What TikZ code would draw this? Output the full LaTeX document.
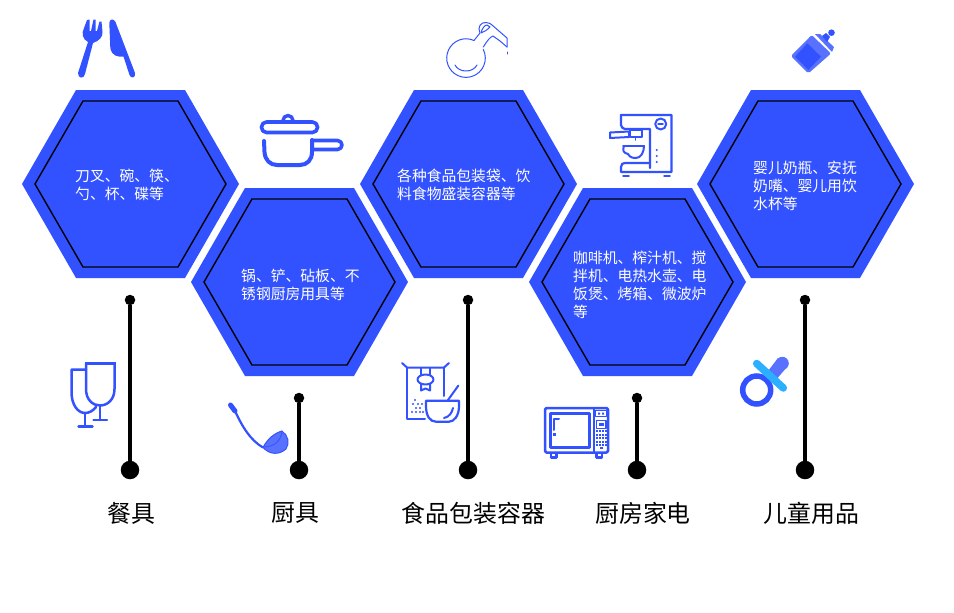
\documentclass[tikz,border=0pt]{standalone}
\usepackage{fontspec}
\setmainfont{Noto Sans CJK SC}
\definecolor{hexblue}{HTML}{3352FF}
\definecolor{lightblue}{HTML}{5872FF}
\definecolor{skyblue}{HTML}{2BB0FF}
\tikzset{
  hexouter/.style={fill=hexblue,draw=none},
  hexinner/.style={draw=black,line width=1.4pt,line join=miter},
  hextext/.style={anchor=west,inner sep=0pt,align=left,text=white,font=\fontsize{14.8}{18}\selectfont},
  cattext/.style={inner sep=0pt,text=black,font=\fontsize{23.9}{28}\selectfont},
  smalldot/.style={circle,fill=black,inner sep=0pt,minimum size=10.5pt},
  bigdot/.style={circle,fill=black,inner sep=0pt,minimum size=18.5pt},
  stem/.style={draw=black,line width=3.4pt},
  ico/.style={draw=hexblue,line width=2.5pt,line cap=round,line join=round},
  icot/.style={draw=hexblue,line width=1.5pt,line cap=round,line join=round},
  icoo/.style={draw=hexblue,line width=4pt,line cap=round,line join=round},
  thinline/.style={draw=hexblue,line width=1pt,line cap=round,line join=round},
}
\newcommand{\hexa}[2]{%
  \fill[hexouter] (#1-108.5,#2) -- (#1-54.5,#2-94) -- (#1+54.5,#2-94) -- (#1+108.5,#2) -- (#1+54.5,#2+94) -- (#1-54.5,#2+94) -- cycle;
  \draw[hexinner] (#1-95.5,#2) -- (#1-47.5,#2-83) -- (#1+47.5,#2-83) -- (#1+95.5,#2) -- (#1+47.5,#2+83) -- (#1-47.5,#2+83) -- cycle;
}
\begin{document}
\begin{tikzpicture}[x=1pt,y=-1pt]
\useasboundingbox (0,0) rectangle (954,613);
\fill[white] (0,0) rectangle (954,613);
% hexagons
\hexa{130.5}{184}
\hexa{299.5}{282}
\hexa{468.5}{184}
\hexa{637.5}{282}
\hexa{805.5}{184}
% hexagon texts
\node[hextext] (t1) at (75,185) {刀叉、碗、筷、\\勺、杯、碟等};
\node[hextext] (t2) at (241,285) {锅、铲、砧板、不\\锈钢厨房用具等};
\node[hextext] (t3) at (397,185) {各种食品包装袋、饮\\料食物盛装容器等};
\node[hextext] (t4) at (573,285) {咖啡机、榨汁机、搅\\拌机、电热水壶、电\\饭煲、烤箱、微波炉\\等};
\node[hextext] (t5) at (753,186) {婴儿奶瓶、安抚\\奶嘴、婴儿用饮\\水杯等};
% connectors
\node[smalldot] (a1) at (130,300) {};
\node[bigdot] (b1) at (130,470) {};
\node[smalldot] (a2) at (299,398) {};
\node[bigdot] (b2) at (299,470) {};
\node[smalldot] (a3) at (468,300) {};
\node[bigdot] (b3) at (468,470) {};
\node[smalldot] (a4) at (637,398) {};
\node[bigdot] (b4) at (637,470) {};
\node[smalldot] (a5) at (805,300) {};
\node[bigdot] (b5) at (805,470) {};
\foreach \i in {1,...,5} {\draw[stem] (a\i) -- (b\i);}
% category labels
\node[cattext] (c1) at (131,513) {餐具};
\node[cattext] (c2) at (295.5,513) {厨具};
\node[cattext] (c3) at (473.5,513) {食品包装容器};
\node[cattext] (c4) at (643,513) {厨房家电};
\node[cattext] (c5) at (811.5,513) {儿童用品};
% fork
\fill[hexblue] (78,73) .. controls (78,79) and (84,79) .. (85,74) -- (93,43)
  .. controls (99,41) and (103,37) .. (102.5,32) -- (101.5,21.5) -- (99.5,21.5) -- (97,31) -- (95.5,31) -- (95.5,19.5) -- (93.5,19.5) -- (91,31) -- (89.5,31) -- (89.5,19.5) -- (87,20) -- (84,28)
  .. controls (81.5,33) and (82,39) .. (88,42) -- cycle;
% knife
\fill[hexblue] (109.3,23) .. controls (109.5,18.5) and (114,18.5) .. (115.5,22) -- (135,73)
  .. controls (136,78.5) and (130.5,78.5) .. (129.5,75) -- (123.5,56.5)
  .. controls (117,57) and (112,56) .. (110.3,48) -- cycle;
% pot
\draw[icoo,line width=3.6pt,rounded corners=5pt] (261.5,122) rectangle (317.5,132.5);
\draw[icoo,line width=3.4pt] (283,120.5) arc[start angle=180,end angle=360,radius=5];
\draw[icoo] (264,141) -- (264.5,152) .. controls (265,160) and (270,165) .. (277,165) -- (300,165) .. controls (307,165) and (312,160) .. (312,152) -- (312,140);
\draw[icoo,line width=3.6pt] (312,140.5) -- (337.5,140.5) arc[start angle=270,end angle=450,radius=4.5] -- (312,149.5);
% jug
\draw[thinline] (474,40.5) arc[start angle=294.4,end angle=-27,radius=19.3];
\draw[thinline] (474,40.5) -- (480,33) .. controls (477,27) and (481,22) .. (486,22.5) .. controls (489,22.5) and (491,24) .. (492,25) -- (507,38) -- (507,47);
\draw[thinline] (483.3,47) .. controls (487,41) and (490,37) .. (493,36) -- (500,41) -- (507,47);
\draw[thinline] (507,52) -- (507,54);
\draw[thinline] (481,33) .. controls (482,28) and (485,25) .. (487,25) -- (490,27) .. controls (487,30) and (484,32) .. (481,33);
\draw[thinline] (455,65) .. controls (459,73) and (473,73) .. (477,65);
% coffee machine
\draw[ico,line width=2.2pt] (621,115) -- (671.5,115) -- (671.5,172) -- (621,172) -- (621,167) .. controls (621,164) and (623,163) .. (625,163) -- (650,163);
\draw[ico,line width=2.2pt] (621,115) -- (621,125) .. controls (621,127) and (623,129) .. (625,129) -- (650,129) -- (650,168);
\draw[icot] (630,130) rectangle (642,137);
\draw[ico,line width=2pt] (610,132.5) -- (629,131.5) -- (629,137) -- (610,138) -- cycle;
\draw[icot] (635.5,137) -- (635.5,140);
\draw[ico,line width=2pt] (623,146) -- (644,146);
\draw[ico,line width=2pt] (624,146) .. controls (622,151) and (624,153) .. (628,154) .. controls (630,158) and (634,158) .. (636,158) .. controls (641,158) and (644,152) .. (644,146);
\draw[ico,line width=2pt] (660.7,124) circle (5.5);
\draw[icot] (658,124) -- (663,124);
\fill[hexblue] (656.7,150) circle (1.2) (656.7,156) circle (1.2) (656.7,162) circle (1.2);
\draw[icot] (623,176) -- (629,176) (664,176) -- (670,176);
% glasses
\draw[ico] (86,369.5) -- (71.5,369.5) -- (71.5,392) .. controls (71.5,405) and (78,413) .. (85,413) .. controls (89,413) and (93,411) .. (96,407);
\draw[ico] (85,413) -- (85,426.5) (78.5,426.5) -- (92.5,426.5);
\draw[ico,line width=3pt,line cap=butt] (85,363.5) -- (115.5,363.5);
\draw[ico] (86,363.5) -- (86,389) .. controls (86,400) and (93,405.5) .. (100,405.5) .. controls (107,405.5) and (114.5,400) .. (114.5,389) -- (114.5,363.5);
\draw[ico] (100,405.5) -- (100,420) (93.5,420) -- (107,420);
% ladle
\draw[hexblue,line width=5pt,line cap=round] (230.5,405) -- (235,411);
\draw[hexblue,line width=2.2pt] (235,411) .. controls (242,426) and (250,440) .. (263,447.5);
\fill[lightblue,draw=hexblue,line width=1pt] (263,447.5) .. controls (268,438) and (275,433) .. (282,431) .. controls (288,435) and (290,443) .. (286,449) .. controls (279,455) and (270,455) .. (263,447.5) -- cycle;
\draw[hexblue,line width=.8pt] (264,447) .. controls (274,447) and (281,441) .. (282,431);
% food packaging
\draw[ico,line width=2pt] (402,363) -- (407,367.5) -- (444,367.5) -- (449,363);
\draw[ico,line width=2pt] (407,367.5) -- (407,418.5) -- (425,418.5);
\draw[ico,line width=2pt] (443.5,367.5) -- (443.5,396);
\draw[ico,line width=2pt] (421,368) -- (421,375) (430,368) -- (430,375);
\draw[ico,line width=2pt] (425.5,379.5) ellipse (8 and 5);
\draw[ico,line width=2pt] (421,384) -- (421,390.5) -- (425.5,388.5) -- (430,390.5) -- (430,384);
\foreach \p in {(415,400),(413,404),(418,404),(422,404),(416,408),(420,408),(412,412),(416,412),(420,412),(423,412)} {\fill[hexblue] \p circle (1.1);}
\draw[ico,line width=2.2pt] (426,400.7) -- (459,400.7) -- (459,406) .. controls (459,416) and (454,421.7) .. (449,421.7) -- (436,421.7) .. controls (430,421.7) and (426,416) .. (426,406) -- cycle;
\draw[ico,line width=2pt] (448,400) -- (458.3,385.7);
\draw[ico,line width=2pt] (453,408) .. controls (452,413) and (449,417) .. (444,418);
% microwave
\draw[ico,rounded corners=1.5pt] (545,408) rectangle (608,452.5);
\draw[ico,line width=3pt] (550,413) rectangle (589,447.5);
\draw[ico,line width=2pt] (593.5,408) -- (593.5,452.5);
\draw[ico,line width=2pt] (559,418.5) -- (554,418.5) -- (554,430);
\fill[hexblue] (553,433) rectangle (555.5,435.5);
\draw[ico,line width=2.2pt] (551,453) rectangle (556.5,457.5) (596.5,453) rectangle (602,457.5);
\draw[icot] (595.5,410.5) rectangle (606.5,416.5);
\fill[hexblue] (598,412.5) rectangle (600,414.5) (602,412.5) rectangle (604,414.5);
\draw[icot] (596.5,420.5) rectangle (606,428.5);
\fill[hexblue] (598.5,423) rectangle (604,426);
\foreach \gy in {430,433.5,437,440.5,444} {\foreach \gx in {596,599,602,605} {\fill[hexblue] (\gx,\gy) rectangle ++(2.2,2.2);}}
\fill[hexblue] (600,446.5) rectangle (602.5,449);
% bottle
\fill[lightblue,rounded corners=2pt] (811.7,35) -- (831,53.5) -- (808.3,73.5) -- (791,56) -- cycle;
\fill[hexblue] (807.3,43.3) -- (821,56.7) -- (808.3,70) -- (795,56.7) -- cycle;
\fill[lightblue] (815,34) -- (820,34) -- (834,47) -- (832,52) -- cycle;
\fill[hexblue] (822,36) -- (826,33) -- (830,37) -- (827,42) -- cycle;
\fill[hexblue] (831.5,32.7) circle (3.3);
% pacifier
\fill[lightblue] (778,358) -- (787,367) -- (775,381) -- (765,375) -- cycle;
\fill[lightblue] (782.3,363.3) circle (6.5);
\draw[hexblue,line width=5.5pt] (756.7,390) circle (14);
\draw[skyblue,line width=7.5pt,line cap=round] (756.7,363.5) -- (783.3,388);
\end{tikzpicture}
\end{document}
